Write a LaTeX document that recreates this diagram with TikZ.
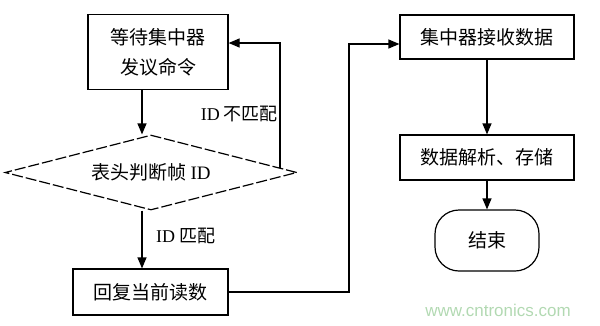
\documentclass[tikz,border=0pt]{standalone}
\usepackage{fontspec}
\setmainfont{Noto Sans CJK SC}
\newfontfamily\lat{Liberation Serif}
\newfontfamily\wm{Liberation Sans}
\usetikzlibrary{arrows.meta,shapes.geometric,calc}
\begin{document}
\begin{tikzpicture}[x=1pt,y=-1pt,
  box/.style={draw,line width=1.2pt,inner sep=0pt,align=center,font=\fontsize{19}{30}\selectfont},
  arr/.style={line width=1.2pt,-{Triangle[length=11pt,width=9pt]}},
  lbl/.style={font=\fontsize{18}{20}\selectfont,inner sep=0pt}]
\useasboundingbox (0,0) rectangle (600,325);
\node[box,minimum width=140pt,minimum height=75pt] (b1) at (158,52) {等待集中器\\发议命令};
\node[draw,dash pattern=on 11pt off 3pt,line width=1.2pt,diamond,aspect=3.9,inner sep=0pt,
      minimum width=292pt,minimum height=75pt,font=\fontsize{19}{20}\selectfont] (d) at (151,172.5) {表头判断帧 {\lat ID}};
\node[box,minimum width=155pt,minimum height=46pt] (b3) at (150.5,292) {回复当前读数};
\node[box,minimum width=174pt,minimum height=44pt] (b4) at (487,37) {集中器接收数据};
\node[box,minimum width=174pt,minimum height=45pt] (b5) at (487,157.5) {数据解析、存储};
\node[box,rounded corners=24pt,minimum width=104pt,minimum height=61pt] (e) at (487,240.5) {结束};
\node[lbl,anchor=east] (l1) at (278,114) {{\lat ID} 不匹配};
\node[lbl,anchor=west] (l2) at (156,236) {{\lat ID} 匹配};
\node[inner sep=0pt,text=green!50!black!30,font=\wm\fontsize{17}{20}\selectfont] (w) at (498,310) {www.cntronics.com};
\coordinate (c1) at ([xshift=-16pt]b1.south);
\draw[arr] (c1) -- (c1 |- d.north);
\coordinate (c2) at ($(d.north)!0.88!(d.east)$);
\draw[arr] (c2) |- ([yshift=9pt]b1.east);
\coordinate (c3) at ([xshift=-9pt]d.south);
\draw[arr] (c3) -- (c3 |- b3.north);
\coordinate (c4) at (349,292);
\draw[arr] (b3.east) -- (c4) |- ([yshift=-7pt]b4.west);
\draw[arr] (b4.south) -- (b5.north);
\draw[arr] (b5.south) -- (e.north);
\end{tikzpicture}
\end{document}
